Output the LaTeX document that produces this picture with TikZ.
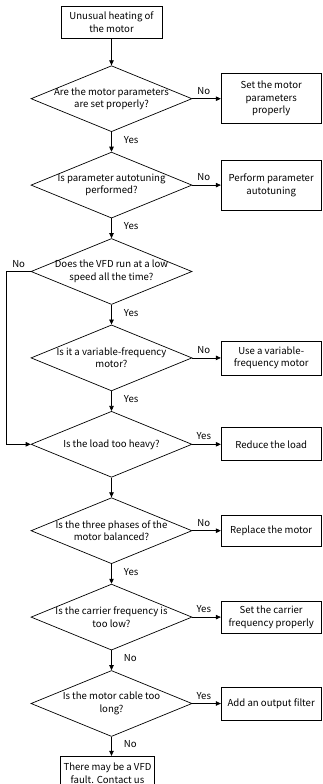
\documentclass[tikz,border=0pt]{standalone}
\usepackage{fontspec}
\setmainfont{Noto Sans CJK SC}
\usetikzlibrary{arrows.meta,positioning,shapes.geometric}

\begin{document}
\begin{tikzpicture}[
  font=\fontsize{9.6}{12.5}\selectfont,
  box/.style={
    draw,
    line width=.7pt,
    align=center,
    inner sep=3pt
  },
  action/.style={
    box,
    minimum width=100pt
  },
  decision/.style={
    diamond,
    draw,
    line width=.7pt,
    minimum width=161pt,
    minimum height=66pt,
    inner sep=0pt
  },
  question/.style={align=center, inner sep=0pt},
  tag/.style={inner sep=1pt},
  flow/.style={-{Triangle[length=5pt,width=4.5pt]}, line width=.7pt},
  node distance=19.7pt and 28.5pt
]
\useasboundingbox (0,0) rectangle (322pt,-784pt);

\node[box, minimum width=101pt, minimum height=32pt] (start) at (111.5pt,-22pt)
  {Unusual heating of\\the motor};

\node[decision, below=27pt of start,
  label={[question]center:Are the motor parameters\\are set properly?}] (params) {};
\node[decision, below=of params,
  label={[question]center:Is parameter autotuning\\performed?}] (autotune) {};
\node[decision, below=of autotune,
  label={[question]center:Does the VFD run at a low\\speed all the time?}] (lowspeed) {};
\node[decision, below=of lowspeed,
  label={[question]center:Is it a variable-frequency\\motor?}] (vfmotor) {};
\node[decision, below=of vfmotor,
  label={[question]center:Is the load too heavy?}] (load) {};
\node[decision, below=of load,
  label={[question]center:Is the three phases of the\\motor balanced?}] (phases) {};
\node[decision, below=of phases,
  label={[question]center:Is the carrier frequency is\\too low?}] (carrier) {};
\node[decision, below=of carrier,
  label={[question]center:Is the motor cable too\\long?}] (cable) {};

\node[box, minimum width=94pt, minimum height=34pt,
  below=19pt of cable, xshift=-4pt] (fault)
  {There may be a VFD\\fault. Contact us};

% actions on the right
\node[action, minimum height=50pt, right=of params] (set-params)
  {Set the motor\\parameters\\properly};
\node[action, minimum height=50pt, right=of autotune] (do-autotune)
  {Perform parameter\\autotuning};
\node[action, minimum height=34pt, right=of vfmotor] (use-vfmotor)
  {Use a variable-\\frequency motor};
\node[action, minimum height=33pt, right=of load] (reduce-load)
  {Reduce the load};
\node[action, minimum height=31pt, right=of phases] (replace-motor)
  {Replace the motor};
\node[action, minimum height=32pt, right=of carrier] (set-carrier)
  {Set the carrier\\frequency properly};
\node[action, minimum height=33pt, right=of cable] (add-filter)
  {Add an output filter};

% main line
\draw[flow] (start) -- (params);
\draw[flow] (params) -- node[tag, right=11pt, pos=.4] {Yes} (autotune);
\draw[flow] (autotune) -- node[tag, right=11pt, pos=.4] {Yes} (lowspeed);
\draw[flow] (lowspeed) -- node[tag, right=11pt, pos=.4] {Yes} (vfmotor);
\draw[flow] (vfmotor) -- node[tag, right=11pt, pos=.4] {Yes} (load);
\draw[flow] (load) -- (phases);
\draw[flow] (phases) -- node[tag, right=11pt, pos=.4] {Yes} (carrier);
\draw[flow] (carrier) -- node[tag, right=11pt, pos=.4] {No} (cable);
\draw[flow] (cable) -- node[tag, right=11pt, pos=.4] {No} (cable |- fault.north);

% branches
\draw[flow] (params) -- node[tag, above=3pt, pos=.4] {No} (set-params);
\draw[flow] (autotune) -- node[tag, above=3pt, pos=.4] {No} (do-autotune);
\draw[flow] (vfmotor) -- node[tag, above=3pt, pos=.4] {No} (use-vfmotor);
\draw[flow] (load) -- node[tag, above=3pt, pos=.4] {Yes} (reduce-load);
\draw[flow] (phases) -- node[tag, above=3pt, pos=.4] {No} (replace-motor);
\draw[flow] (carrier) -- node[tag, above=3pt, pos=.4] {Yes} (set-carrier);
\draw[flow] (cable) -- node[tag, above=3pt, pos=.4] {Yes} (add-filter);
\draw[flow] (lowspeed.west) -- node[tag, above=3pt] {No} ++(-24pt,0) |- (load.west);
\end{tikzpicture}
\end{document}
